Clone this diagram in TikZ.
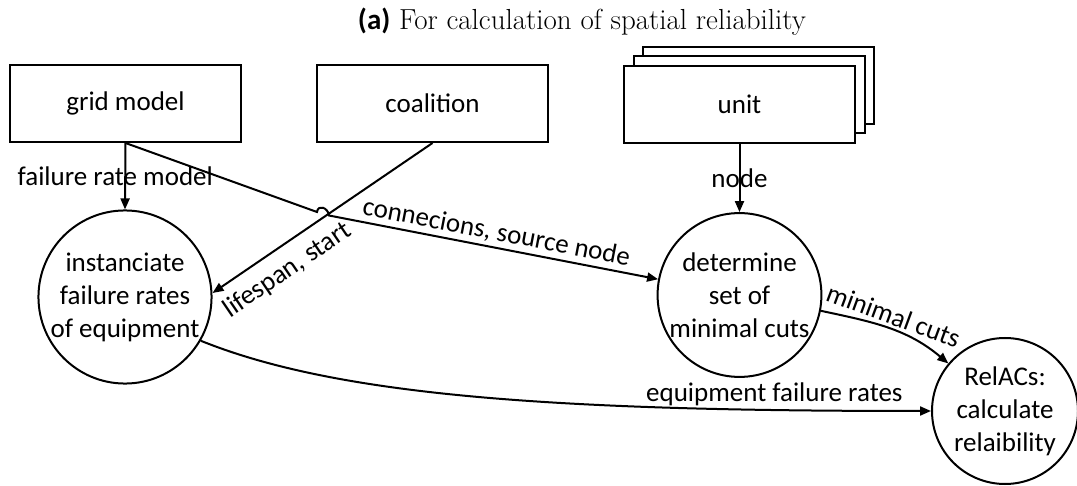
\documentclass[tikz,border=0pt]{standalone}
\usepackage{fontspec}
\newfontfamily\diafont{Carlito}
\usepackage{tikz}
\usetikzlibrary{positioning, arrows.meta, shadows}

\begin{document}
\begin{tikzpicture}[
    x=1pt, y=-1pt,
    every node/.style={font=\diafont\fontsize{27}{33}\selectfont},
    box/.style={rectangle, draw, fill=white, line width=2pt, minimum width=231pt, minimum height=77pt},
    stack/.style={box, double copy shadow={shadow xshift=9.5pt, shadow yshift=9.5pt}},
    proc/.style={circle, draw, line width=2pt, inner sep=0pt, minimum size=#1, align=center},
    flow/.style={-{Triangle[length=11pt, width=9pt]}, line width=2pt},
    label/.style={inner sep=3pt}
]
\useasboundingbox (0,0) rectangle (1077,486);

\node[font=\fontsize{29}{34}\selectfont] (title) at (582,22) {{\diafont\bfseries (a)} For calculation of spatial reliability};

% inputs
\node[box] (grid) at (125.5,103.5) {grid model};
\node[box] (coal) at (432.5,103.5) {coalition};
\node[stack] (unit) at (739.5,104.5) {unit};

% processes
\node[proc=154pt] (inst) at (125,297) {instanciate\\failure rates\\of equipment};
\node[proc=152pt] (cuts) at (739.5,295) {determine\\set of\\minimal cuts};
\node[proc=146pt] (relacs) at (1005,411) {RelACs:\\calculate\\relaibility};

% line hop over the coalition line
\coordinate (hopA) at (317,212);
\coordinate (hopB) at (329,215.5);

% Arrows with labels
\draw[flow] (grid.south) -- (inst.north) node[midway, xshift=-10pt, label] {failure rate model};
\draw[flow] (grid.south) -- (hopA) .. controls +(1,-8) and +(-1,-8) .. (hopB) -- (cuts)
    node[midway, above, sloped, label] {connecions, source node};
\draw[flow] (coal.south) -- ([yshift=4pt]inst.east) node[pos=0.72, below=8pt, sloped, label] {lifespan, start};
\draw[flow] (unit.south) -- (cuts.north) node[midway, label] {node};
\draw[flow] (cuts.-11) to[out=-12, in=140] node[midway, above, sloped, label] {minimal cuts} (relacs.140);
\draw[flow] (inst.-30) to[out=-22, in=180, out distance=150pt, in distance=370pt]
    node[pos=0.85, above, label] {equipment failure rates} (relacs.west);

\end{tikzpicture}
\end{document}
